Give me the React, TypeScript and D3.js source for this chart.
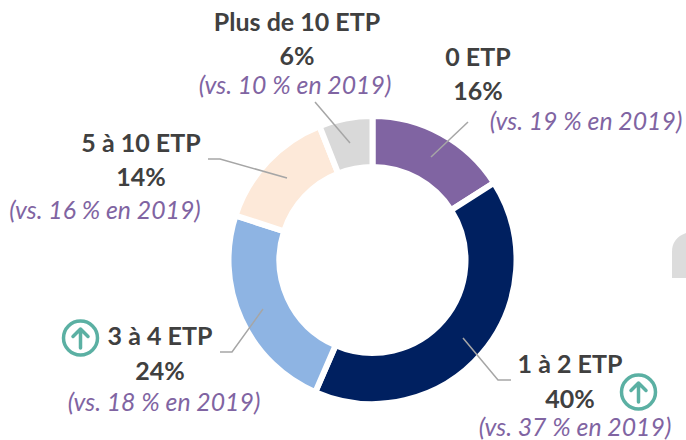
import React from "react";
import * as d3 from "d3";

const categories = ["0 ETP", "1 à 2 ETP", "3 à 4 ETP", "5 à 10 ETP", "Plus de 10 ETP"];
const shares = [16, 40, 24, 14, 6];
const sliceValues = [16, 40.5, 23.5, 14, 6];
const shares2019 = [19, 37, 18, 16, 10];
const colors = ["#8064a2", "#002060", "#8eb4e3", "#fde9d9", "#d9d9d9"];
const labelX = [478, 570, 160, 141, 297];
const nameY = [66, 373, 345, 152, 31];
const shareY = [100, 408, 380, 186, 65];
const noteX = [586, 575, 164, 105, 295];
const noteY = [130, 436, 411, 219, 94];
const leaders: [number, number][][] = [
  [[431, 157], [468, 122]],
  [[463, 338], [498, 380], [511, 380]],
  [[263, 309], [232, 352], [220, 352]],
  [[287, 178], [220, 159], [208, 159]],
  [[350, 143], [315, 102]],
];
const arrowBadges: [number, number][] = [[80.5, 338], [638.5, 392]];

const FONT = "Lato, 'Open Sans', sans-serif";

export default function App() {
  const cx = 372.5, cy = 260, outer = 144, inner = 93;
  const pie = d3.pie<number>().sort(null).value((d) => d);
  const arc = d3.arc<d3.PieArcDatum<number>>().innerRadius(inner).outerRadius(outer);
  const arcs = pie(sliceValues);
  const line = d3.line();
  return (
    <svg width={686} height={440} style={{ position: "absolute", left: 0, top: 0, background: "#fff" }}>
      <path d="M686 233 Q672 238 672 252 L672 278 L686 278 Z" fill="#dcdcdc" />
      <g transform={`translate(${cx},${cy})`}>
        {arcs.map((a, i) => (
          <path key={i} d={arc(a) || ""} fill={colors[i]} stroke="#fff" strokeWidth={6} />
        ))}
      </g>
      {leaders.map((pts, i) => (
        <path key={i} d={line(pts) || ""} fill="none" stroke="#a6a6a6" strokeWidth={1.5} />
      ))}
      {categories.map((c, i) => (
        <g key={c} fontFamily={FONT} textAnchor="middle">
          <text x={labelX[i]} y={nameY[i]} fontSize={25} fontWeight={700} fill="#404040">{c}</text>
          <text x={labelX[i]} y={shareY[i]} fontSize={25} fontWeight={700} fill="#404040">{shares[i]}%</text>
          <text x={noteX[i]} y={noteY[i]} fontSize={24.8} fontStyle="italic" fill="#8064a2">
            {`(vs. ${shares2019[i]} % en 2019)`}
          </text>
        </g>
      ))}
      {arrowBadges.map(([x, y], i) => (
        <g key={i} transform={`translate(${x},${y})`} fill="none" stroke="#5bb0a3" strokeLinecap="round" strokeLinejoin="round">
          <circle r={17} strokeWidth={3.5} fill="#fff" />
          <path d="M0 10 L0 -9 M-7.5 -1.5 L0 -9 L7.5 -1.5" strokeWidth={3.5} />
        </g>
      ))}
    </svg>
  );
}
